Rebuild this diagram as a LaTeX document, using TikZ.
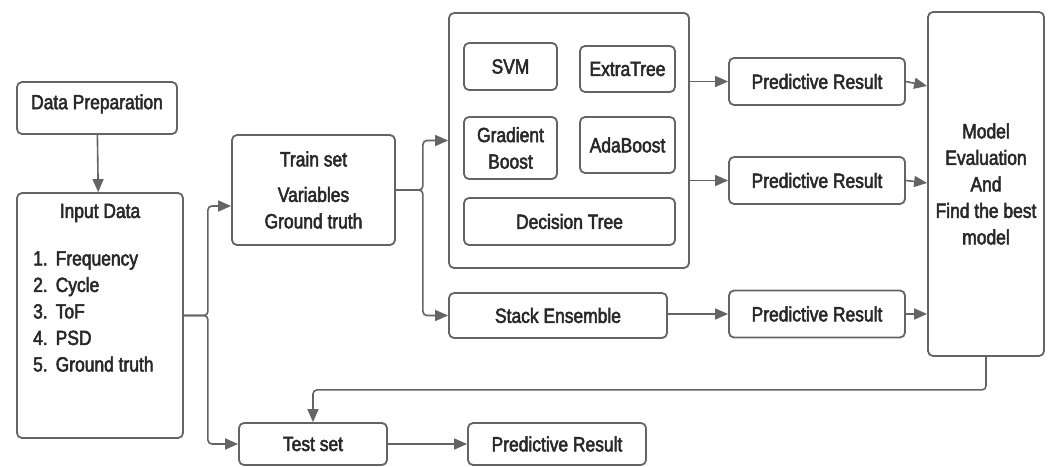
\documentclass[tikz,border=0pt]{standalone}
\usepackage{fontspec}
\setmainfont{Liberation Sans}[FakeStretch=0.85,UprightFeatures={FakeBold=2.5}]
\usetikzlibrary{arrows.meta}
\definecolor{linegray}{RGB}{100,100,100}
\definecolor{textgray}{RGB}{40,40,40}
\begin{document}
\begin{tikzpicture}[>={Triangle[length=13pt,width=11pt]}, x=1pt, y=-1pt,
 txt/.style={text=textgray, font=\fontsize{20.5}{26.5}\selectfont, inner sep=0pt},
 box/.style={txt, draw=linegray, line width=1.8pt, rounded corners=5pt, align=center},
 arr/.style={->, draw=linegray, line width=1.6pt}]
 \useasboundingbox (0,0) rectangle (1052,466);

 \node[box, minimum width=160, minimum height=52] (prep) at (97,108) {Data Preparation\\[-14pt]};
 \node[box, minimum width=166, minimum height=245] (input) at (100,315.5) {};
 \node[txt] (intitle) at (100,213) {Input Data};
 \node[txt, anchor=west, align=left] (inlist) at (33,311.5)
   {1.\hspace{8pt}Frequency\\2.\hspace{8pt}Cycle\\3.\hspace{8pt}ToF\\4.\hspace{8pt}PSD\\5.\hspace{8pt}Ground truth};
 \node[box, minimum width=163, minimum height=110] (train) at (313.5,190) {Train set\\[9pt]Variables\\Ground truth};
 \node[box, minimum width=148, minimum height=42] (test) at (313,444) {Test set};
 \node[box, minimum width=178, minimum height=42] (prt) at (557,444) {Predictive Result};

 % models
 \node[box, minimum width=240, minimum height=255] (ens) at (569,140.5) {};
 \node[box, minimum width=93, minimum height=47] (svm) at (510.5,66.5) {SVM};
 \node[box, minimum width=95, minimum height=46] (extra) at (627.5,69) {ExtraTree};
 \node[box, minimum width=93, minimum height=62] (grad) at (510.5,148) {Gradient\\Boost};
 \node[box, minimum width=95, minimum height=56] (ada) at (627.5,145) {AdaBoost};
 \node[box, minimum width=211, minimum height=47] (dt) at (569.5,221.5) {Decision Tree};
 \node[box, minimum width=218, minimum height=45] (stack) at (558,315.5) {Stack Ensemble};
 \foreach \n/\y in {1/81.5, 2/180.5, 3/314}
 {
     \node[box, minimum width=176, minimum height=47] (pr\n) at (817,\y) {Predictive Result};
 }
 \node[box, minimum width=116, minimum height=344] (eval) at (986,184) {Model\\Evaluation\\And\\Find the best\\model};

 \draw[arr] (prep) -- (input);
 \draw[arr, rounded corners=4pt] (input.east) -- ++(24,0) |- ([yshift=-16pt]train.west);
 \draw[arr, rounded corners=4pt] (input.east) -- ++(24,0) |- (test.west);
 \draw[arr, rounded corners=4pt] (train.east) -- ++(27,0) |- (ens.west);
 \draw[arr, rounded corners=4pt] (train.east) -- ++(27,0) |- (stack.west);
 \draw[arr] (ens.east |- pr1.west) -- (pr1.west);
 \draw[arr] (ens.east |- pr2.west) -- (pr2.west);
 \draw[arr] (stack.east |- pr3.west) -- (pr3.west);
 \foreach \n/\d in {1/-4.5, 2/-2.5, 3/0}
 {
     \draw[arr] (pr\n.east) -- ([yshift=\d pt]pr\n.east -| eval.west);
 }
 \draw[arr, rounded corners=4pt] (eval.south) -- ++(0,33) -| (test.north);
 \draw[arr] (test) -- (prt);
\end{tikzpicture}
\end{document}
